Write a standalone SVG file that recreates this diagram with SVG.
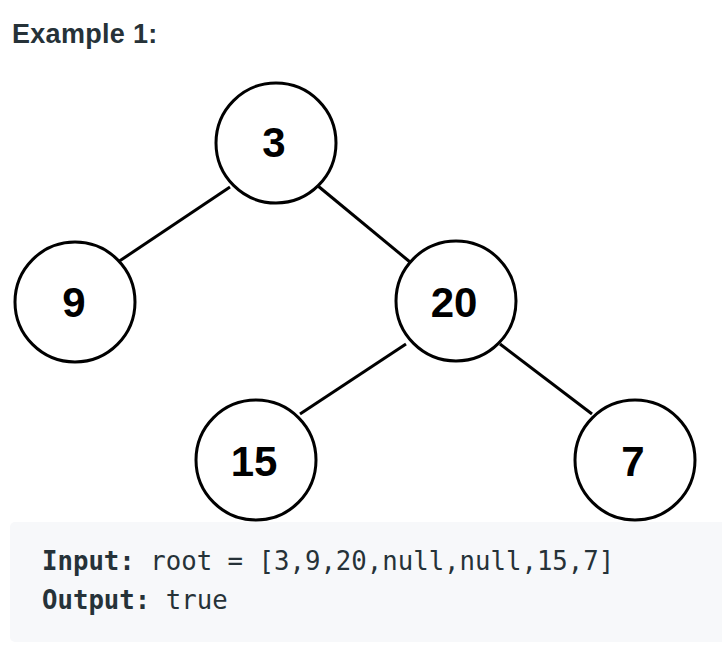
<svg xmlns="http://www.w3.org/2000/svg" width="722" height="664" viewBox="0 0 722 664">
<style>
.node circle{fill:#fff;stroke:#000;stroke-width:3}
.node text{font-family:"Liberation Sans",Arial,sans-serif;font-weight:bold;font-size:42px;fill:#000;text-anchor:middle}
.edges line{stroke:#000;stroke-width:3}
.title{font-family:"Liberation Sans",Arial,sans-serif;font-weight:bold;font-size:27px;fill:#263238;letter-spacing:0.3px}
.code{font-family:"DejaVu Sans Mono","Liberation Mono",monospace;font-size:25.7px;fill:#263238}
.code .b{font-weight:bold}
</style>
<rect width="722" height="664" fill="#fff"/>
<text class="title" x="12" y="43">Example 1:</text>
<g class="edges">
<line x1="230" y1="187" x2="118" y2="262"/>
<line x1="318" y1="186" x2="410" y2="262"/>
<line x1="406" y1="344" x2="300" y2="414"/>
<line x1="500" y1="344" x2="592" y2="414"/>
</g>
<g id="n3" class="node"><circle cx="276" cy="143" r="60"/><text x="274" y="157">3</text></g>
<g id="n9" class="node"><circle cx="75" cy="302" r="60"/><text x="74" y="317">9</text></g>
<g id="n20" class="node"><circle cx="456" cy="301" r="60"/><text x="454" y="317">20</text></g>
<g id="n15" class="node"><circle cx="256" cy="460" r="60"/><text x="254" y="476">15</text></g>
<g id="n7" class="node"><circle cx="635" cy="460" r="60"/><text x="633" y="476">7</text></g>
<rect x="10" y="522" width="720" height="120" rx="5" fill="#f7f8fa"/>
<text class="code" x="42" y="570"><tspan class="b">Input:</tspan> root = [3,9,20,null,null,15,7]</text>
<text class="code" x="42" y="609"><tspan class="b">Output:</tspan> true</text>
</svg>
